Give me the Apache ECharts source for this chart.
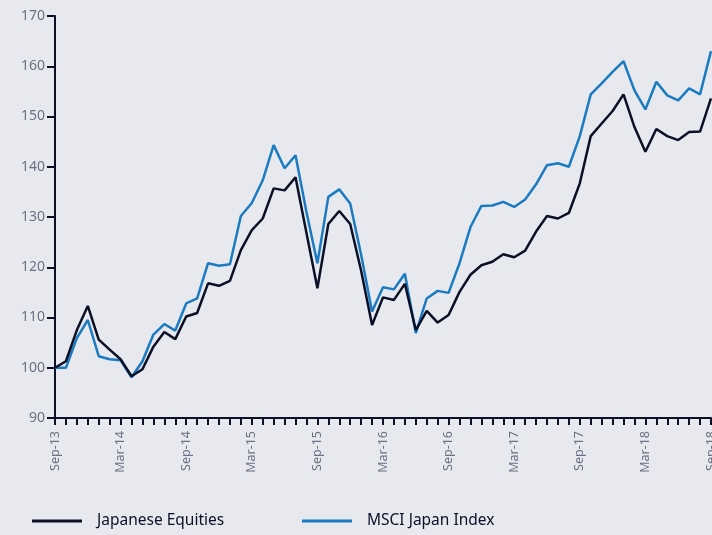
<!DOCTYPE html>
<html>
<head>
<meta charset="utf-8">
<script src="https://cdn.jsdelivr.net/npm/echarts@6/dist/echarts.min.js"></script>
<style>
html,body{margin:0;padding:0;background:#e8e9ee;}
#c{width:712px;height:535px;}
</style>
</head>
<body>
<div id="c"></div>
<script>
var months = ['Jan','Feb','Mar','Apr','May','Jun','Jul','Aug','Sep','Oct','Nov','Dec'];
var categories = [];
(function(){
  var m = 8, y = 13;
  for (var k = 0; k < 61; k++) {
    categories.push(months[m] + '-' + y);
    m++; if (m > 11) { m = 0; y++; }
  }
})();

var japaneseEquities = [100,101.3,107.5,112.3,105.6,103.6,101.7,98.3,99.7,104.2,107.1,105.7,110.2,110.9,116.8,116.3,117.3,123.4,127.4,129.7,135.7,135.3,137.9,126.8,115.8,128.6,131.2,128.6,119.3,108.5,114,113.5,116.7,107.5,111.3,109,110.5,115.1,118.5,120.4,121.1,122.6,122,123.3,127.1,130.2,129.7,130.8,136.7,146.1,148.6,151.1,154.4,147.9,143,147.5,146.1,145.3,146.9,147,153.6];

var msciJapan = [100,100,105.9,109.5,102.3,101.7,101.5,98.1,101.3,106.6,108.7,107.4,112.8,113.8,120.8,120.3,120.6,130.2,132.8,137.3,144.3,139.7,142.3,131,120.8,134,135.5,132.7,122.5,111.2,116,115.6,118.7,106.9,113.8,115.3,114.9,120.8,128,132.2,132.3,133,132,133.5,136.5,140.3,140.7,140,146.1,154.4,156.6,158.9,161,155.2,151.4,156.9,154.2,153.2,155.6,154.4,163];

var yMin = 90, yMax = 170, yStep = 10;

var axisColor = '#0b1026';
var labelColor = '#6a7184';
var font = 'Noto Sans';

var chart = echarts.init(document.getElementById('c'), null, {renderer:'canvas'});
chart.setOption({
  backgroundColor: '#e8e9ee',
  animation: false,
  grid: {left: 55, right: 1, top: 16, bottom: 117, containLabel: false, outerBoundsMode: 'none'},
  legend: [
    {data: ['Japanese Equities'], left: 27, bottom: 1, itemWidth: 50, itemHeight: 3, icon: 'rect',
     textStyle: {color: axisColor, fontSize: 15.5, fontFamily: font, padding: [0,0,0,10]}},
    {data: ['MSCI Japan Index'], left: 297, bottom: 1, itemWidth: 50, itemHeight: 3, icon: 'rect',
     textStyle: {color: axisColor, fontSize: 15.5, fontFamily: font, padding: [0,0,0,10]}}
  ],
  xAxis: {
    type: 'category',
    data: categories,
    boundaryGap: false,
    axisLine: {lineStyle: {color: axisColor, width: 2}},
    axisTick: {show: true, interval: 0, length: 7, lineStyle: {color: axisColor, width: 2}},
    axisLabel: {interval: 5, rotate: 90, color: labelColor, fontSize: 12.5, fontFamily: font, margin: 13},
    splitLine: {show: false}
  },
  yAxis: {
    type: 'value',
    min: yMin, max: yMax, interval: yStep,
    axisLine: {show: true, lineStyle: {color: axisColor, width: 2}},
    axisTick: {show: true, length: 8, lineStyle: {color: axisColor, width: 2}},
    axisLabel: {color: labelColor, fontSize: 14, fontFamily: font, margin: 10},
    splitLine: {show: false}
  },
  series: [
    {name: 'Japanese Equities', type: 'line', data: japaneseEquities, symbol: 'none',
     lineStyle: {color: '#0b1026', width: 2.5}, itemStyle: {color: '#0b1026'}, z: 3},
    {name: 'MSCI Japan Index', type: 'line', data: msciJapan, symbol: 'none',
     lineStyle: {color: '#1a7bc0', width: 2.5}, itemStyle: {color: '#1a7bc0'}, z: 2}
  ]
});
</script>
</body>
</html>
